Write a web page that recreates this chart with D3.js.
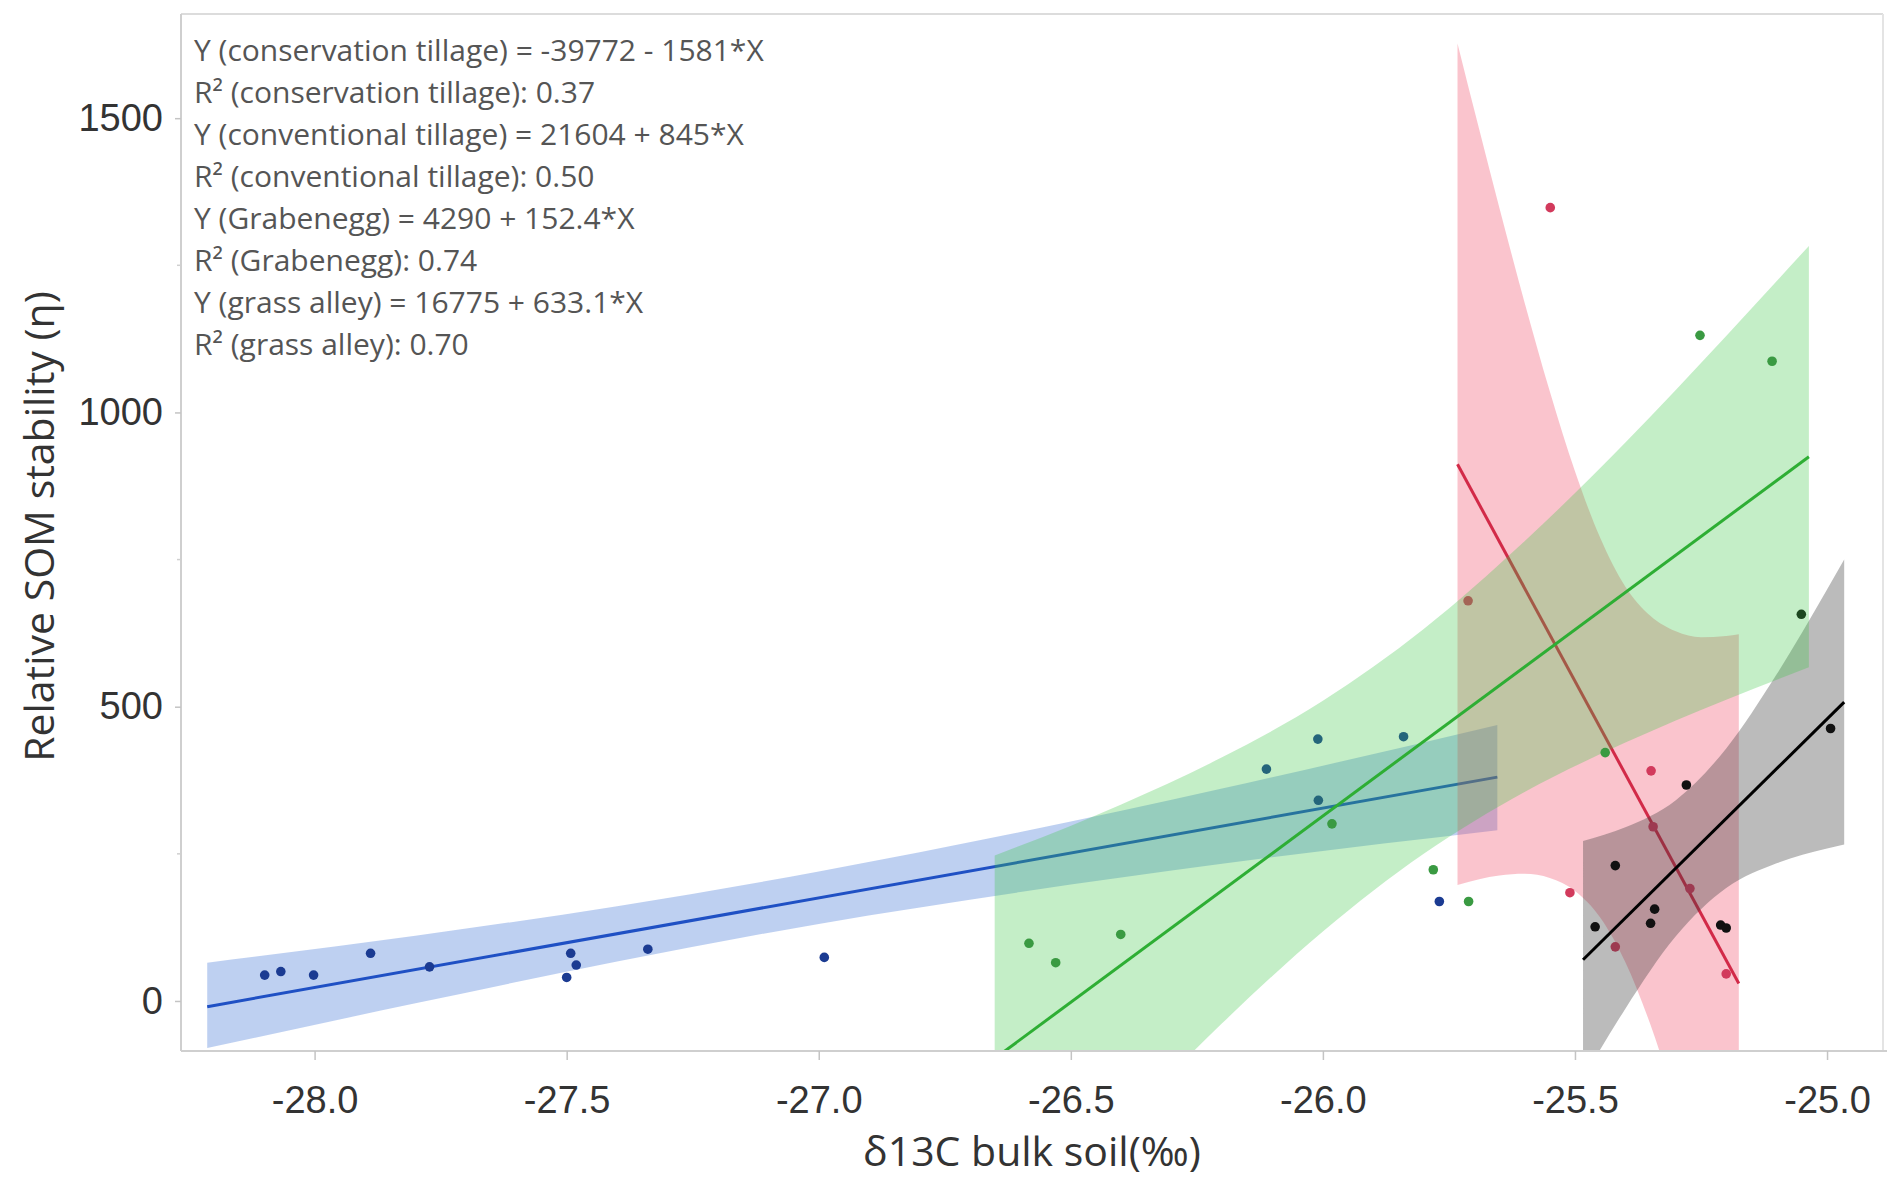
<!DOCTYPE html>
<html>
<head>
<meta charset="utf-8">
<script src="https://cdn.jsdelivr.net/npm/d3@7"></script>
<style>
  html, body { margin: 0; padding: 0; background: #fff; }
  svg { display: block; }
</style>
</head>
<body>
<div id="chart"></div>
<script>
// ── Data ──────────────────────────────────────────────────
const xTicks = [-28.0, -27.5, -27.0, -26.5, -26.0, -25.5, -25.0];
const yTicks = [0, 500, 1000, 1500];
const yMinorTicks = [250, 750, 1250];

// Grabenegg (blue)
const grabX = [-28.099, -28.067, -28.002, -27.889, -27.772, -27.500, -27.492, -27.481,
               -27.339, -26.989, -26.112, -26.010, -25.840, -26.009, -25.769];
const grabY = [44, 50, 44, 81, 58, 40, 81, 61, 88, 74, 394, 445, 449, 341, 169];
const grabBandX  = [-28.213, -27.8, -27.4, -27.0, -26.6, -26.2, -25.654];
const grabBandLo = [-80, -4, 67, 131, 185, 233, 290];
const grabBandHi = [65, 111, 161, 220, 287, 361, 469];

// conservation tillage (red)
const consX = [-25.712, -25.549, -25.510, -25.420, -25.349, -25.345, -25.272, -25.200];
const consY = [680, 1348, 184, 92, 391, 296, 191, 46];
const consBandX  = [-25.733, -25.69, -25.65, -25.6, -25.55, -25.5, -25.45, -25.4, -25.35, -25.3, -25.25, -25.2, -25.175];
const consBandLo = [197, 207, 213, 216, 209, 187, 142, 66, -41, -173, -322, -481, -563];
const consBandHi = [1627, 1481, 1348, 1187, 1036, 900, 787, 704, 654, 628, 618, 620, 623];

// conventional tillage (black)
const convX = [-25.460, -25.420, -25.350, -25.342, -25.279, -25.211, -25.200, -25.051, -24.993];
const convY = [126, 230, 132, 156, 367, 129, 124, 657, 463];
const convBandX  = [-25.484, -25.4, -25.3, -25.2, -25.1, -25.0, -24.966];
const convBandLo = [-132, -13, 110, 192, 234, 259, 266];
const convBandHi = [272, 295, 341, 429, 555, 699, 750];

// grass alley (green)
const grassX = [-26.583, -26.530, -26.401, -25.982, -25.781, -25.711, -25.440, -25.252, -25.109];
const grassY = [98, 65, 113, 301, 223, 169, 422, 1131, 1087];
const grassBandX  = [-26.651, -26.4, -26.2, -26.0, -25.8, -25.6, -25.4, -25.2, -25.036];
const grassBandLo = [-442, -211, -38, 118, 250, 355, 439, 512, 567];
const grassBandHi = [247, 334, 414, 510, 632, 781, 949, 1130, 1283];

// fitted lines, as printed on the chart
const fitIntercepts = { grab: 4290, cons: -39772, conv: 21604, grass: 16775 };
const fitSlopes     = { grab: 152.4, cons: -1581, conv: 845, grass: 633.1 };

const annotationLines = [
    'Y (conservation tillage) = -39772 - 1581*X',
    'R\u00B2 (conservation tillage): 0.37',
    'Y (conventional tillage) = 21604 + 845*X',
    'R\u00B2 (conventional tillage): 0.50',
    'Y (Grabenegg) = 4290 + 152.4*X',
    'R\u00B2 (Grabenegg): 0.74',
    'Y (grass alley) = 16775 + 633.1*X',
    'R\u00B2 (grass alley): 0.70'
];

// ── Layout ────────────────────────────────────────────────
const width = 1887, height = 1180;
const plot = { left: 181, right: 1883, top: 14, bottom: 1051 };

const x = d3.scaleLinear().domain([-28.265, -24.889]).range([plot.left, plot.right]);
const y = d3.scaleLinear().domain([-85, 1677]).range([plot.bottom, plot.top]);

const svg = d3.select('#chart')
    .append('svg')
    .attr('width', width)
    .attr('height', height)
    .style('font-family', "'Open Sans', 'Noto Sans', sans-serif");

svg.append('clipPath')
    .attr('id', 'plot-clip')
    .append('rect')
    .attr('x', plot.left)
    .attr('y', plot.top)
    .attr('width', plot.right - plot.left)
    .attr('height', plot.bottom - plot.top);

// ── Series (drawn in this order so later bands tint earlier lines) ──
const series = [
    { key: 'grab', xs: grabX, ys: grabY, bx: grabBandX, lo: grabBandLo, hi: grabBandHi,
      band: 'rgb(40,100,210)', bandOpacity: 0.3, line: '#1f50c4', dot: '#1b3b92' },
    { key: 'cons', xs: consX, ys: consY, bx: consBandX, lo: consBandLo, hi: consBandHi,
      band: 'rgb(240,60,90)', bandOpacity: 0.3, line: '#d22a48', dot: '#d23a5c' },
    { key: 'conv', xs: convX, ys: convY, bx: convBandX, lo: convBandLo, hi: convBandHi,
      band: 'rgb(60,60,60)', bandOpacity: 0.35, line: '#000', dot: '#111' },
    { key: 'grass', xs: grassX, ys: grassY, bx: grassBandX, lo: grassBandLo, hi: grassBandHi,
      band: 'rgb(60,200,70)', bandOpacity: 0.3, line: '#2eae34', dot: '#3a9a42' }
];

const area = d3.area()
    .x(d => x(d.x))
    .y0(d => y(d.lo))
    .y1(d => y(d.hi))
    .curve(d3.curveMonotoneX);

const g = svg.append('g').attr('clip-path', 'url(#plot-clip)');

series.forEach(s => {
    const grp = g.append('g');

    const bandData = s.bx.map((v, i) => ({ x: v, lo: s.lo[i], hi: s.hi[i] }));
    grp.append('path')
        .datum(bandData)
        .attr('d', area)
        .attr('fill', s.band)
        .attr('fill-opacity', s.bandOpacity);

    // regression line over the band's x range
    const x0 = s.bx[0], x1 = s.bx[s.bx.length - 1];
    const a = fitIntercepts[s.key], b = fitSlopes[s.key];
    grp.append('line')
        .attr('x1', x(x0)).attr('y1', y(a + b * x0))
        .attr('x2', x(x1)).attr('y2', y(a + b * x1))
        .attr('stroke', s.line)
        .attr('stroke-width', 3);

    grp.selectAll('circle')
        .data(s.xs.map((v, i) => [v, s.ys[i]]))
        .join('circle')
        .attr('cx', d => x(d[0]))
        .attr('cy', d => y(d[1]))
        .attr('r', 4.8)
        .attr('fill', s.dot);
});

// ── Frame & axes ──────────────────────────────────────────
const frame = svg.append('g').attr('stroke', '#cfcfcf').attr('stroke-width', 2).attr('fill', 'none');
frame.append('line').attr('x1', plot.left).attr('x2', plot.right).attr('y1', plot.top).attr('y2', plot.top).attr('stroke', '#dcdcdc');
frame.append('line').attr('x1', plot.right).attr('x2', plot.right).attr('y1', plot.top).attr('y2', plot.bottom).attr('stroke', '#e4e4e4');
frame.append('line').attr('x1', plot.left).attr('x2', plot.left).attr('y1', plot.top).attr('y2', plot.bottom);
frame.append('line').attr('x1', plot.left).attr('x2', width).attr('y1', plot.bottom).attr('y2', plot.bottom);

const xAxis = svg.append('g')
    .attr('transform', `translate(0,${plot.bottom})`)
    .call(d3.axisBottom(x).tickValues(xTicks).tickSize(9).tickPadding(26));
xAxis.select('.domain').remove();
xAxis.selectAll('.tick line').attr('stroke', '#c4c4c4').attr('stroke-width', 1.5);
xAxis.selectAll('.tick text')
    .attr('font-size', 38)
    .attr('fill', '#333')
    .text(d => '-' + d3.format('.1f')(Math.abs(d)));

const yAxis = svg.append('g')
    .attr('transform', `translate(${plot.left},0)`)
    .call(d3.axisLeft(y).tickValues(yTicks).tickFormat(d3.format('d')).tickSize(6).tickPadding(12));
yAxis.select('.domain').remove();
yAxis.selectAll('.tick line').attr('stroke', '#c4c4c4').attr('stroke-width', 1.5);
yAxis.selectAll('.tick text')
    .attr('font-size', 38)
    .attr('fill', '#333');

svg.append('g')
    .selectAll('line')
    .data(yMinorTicks)
    .join('line')
    .attr('x1', plot.left - 4).attr('x2', plot.left)
    .attr('y1', d => y(d)).attr('y2', d => y(d))
    .attr('stroke', '#d0d0d0')
    .attr('stroke-width', 1.5);

// ── Titles ────────────────────────────────────────────────
svg.append('text')
    .attr('x', (plot.left + plot.right) / 2)
    .attr('y', 1166)
    .attr('text-anchor', 'middle')
    .attr('font-size', 41)
    .attr('fill', '#333')
    .text('\u03B413C bulk soil(\u2030)');

svg.append('text')
    .attr('transform', `translate(54,${(plot.top + plot.bottom) / 2 - 6}) rotate(-90)`)
    .attr('text-anchor', 'middle')
    .attr('font-size', 41)
    .attr('fill', '#333')
    .text('Relative SOM stability (\u03B7)');

// ── Equation annotations ──────────────────────────────────
svg.append('g')
    .selectAll('text')
    .data(annotationLines)
    .join('text')
    .attr('x', 194)
    .attr('y', (d, i) => 61 + i * 42)
    .attr('font-size', 30)
    .attr('fill', '#555')
    .text(d => d);
</script>
</body>
</html>
